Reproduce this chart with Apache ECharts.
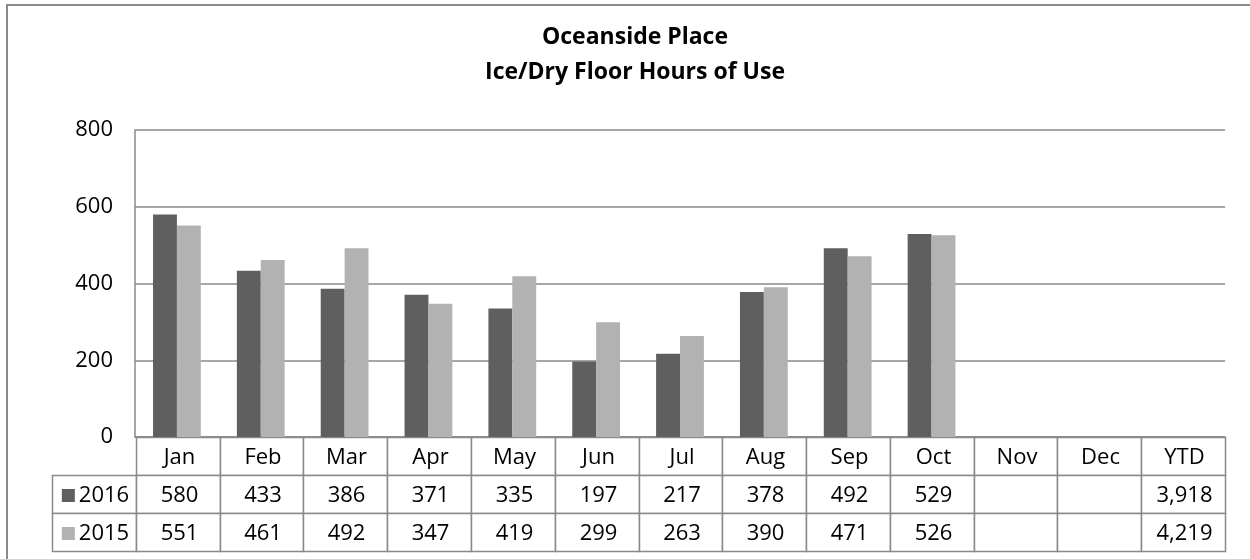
<!DOCTYPE html>
<html>
<head>
<meta charset="utf-8">
<script src="https://cdn.jsdelivr.net/npm/echarts@6/dist/echarts.min.js"></script>
<style>
  html, body { margin: 0; padding: 0; background: #ffffff; }
  #chart { width: 1250px; height: 559px; }
</style>
</head>
<body>
<div id="chart"></div>
<script>
// ---- data ----
const titleLines = ['Oceanside Place', 'Ice/Dry Floor Hours of Use'];
const categories = ['Jan', 'Feb', 'Mar', 'Apr', 'May', 'Jun', 'Jul', 'Aug', 'Sep', 'Oct', 'Nov', 'Dec', 'YTD'];
const seriesNames = ['2016', '2015'];
const values2016 = [580, 433, 386, 371, 335, 197, 217, 378, 492, 529, null, null, null];
const values2015 = [551, 461, 492, 347, 419, 299, 263, 390, 471, 526, null, null, null];
const ytd2016 = '3,918';
const ytd2015 = '4,219';
const yMin = 0, yMax = 800, yInterval = 200;

// ---- styles ----
const colors = ['#5f5f5f', '#b2b2b2'];
const lineColor = '#8a8a8a';
const FONT = '"Open Sans", "Liberation Sans", sans-serif';
const FS = 22;

// ---- table cells (built from data) ----
const rowTexts = [
  values2016.slice(0, 12).map(v => v == null ? '' : String(v)).concat([ytd2016]),
  values2015.slice(0, 12).map(v => v == null ? '' : String(v)).concat([ytd2015])
];
const tableCols = [''].concat(categories);
const tableRows = ['hdr'].concat(seriesNames);
const cells = [];
for (let r = 0; r < 3; r++) {
  for (let c = 0; c < tableCols.length; c++) {
    if (r === 0 && c === 0) continue;
    let text = '', legend = -1;
    if (r === 0) text = categories[c - 1];
    else if (c === 0) { text = seriesNames[r - 1]; legend = r - 1; }
    else text = rowTexts[r - 1][c - 1];
    cells.push({ col: c, row: r, text: text, legend: legend });
  }
}

const chart = echarts.init(document.getElementById('chart'), null, { renderer: 'canvas' });

function renderCell(params, api) {
  const cell = cells[params.dataIndex];
  const p = api.coord([api.value(0), api.value(1)]);
  const s = api.size([1, 1]);
  const x0 = Math.round(p[0] - s[0] / 2) + 0.5;
  const x1 = Math.round(p[0] + s[0] / 2) + 0.5;
  const y0 = Math.round(p[1] - s[1] / 2) + 0.5;
  const y1 = Math.round(p[1] + s[1] / 2) + 0.5;
  const children = [{
    type: 'rect',
    shape: { x: x0, y: y0, width: x1 - x0, height: y1 - y0 },
    style: { fill: '#ffffff', stroke: lineColor, lineWidth: 1.5 }
  }];
  const textStyle = {
    x: (x0 + x1) / 2 + 1,
    y: (y0 + y1) / 2 + 1,
    align: 'center',
    verticalAlign: 'middle',
    fill: '#000000',
    fontSize: FS,
    fontFamily: FONT
  };
  if (cell.legend >= 0) {
    textStyle.text = '{sq|}{t|' + cell.text + '}';
    textStyle.rich = {
      sq: { width: 13, height: 13, backgroundColor: colors[cell.legend], padding: 0 },
      t: { fontSize: FS, fontFamily: FONT, fill: '#000', padding: [0, 0, 0, 4] }
    };
  } else {
    textStyle.text = cell.text;
  }
  children.push({ type: 'text', style: textStyle });
  return { type: 'group', children: children };
}

const option = {
  backgroundColor: '#ffffff',
  animation: false,
  title: {
    text: titleLines.join('\n'),
    left: 630,
    textAlign: 'center',
    top: 15,
    textStyle: { fontFamily: FONT, fontWeight: 'bold', fontSize: 23, lineHeight: 35, color: '#000' }
  },
  graphic: [{
    type: 'rect',
    shape: { x: 7, y: 5, width: 1400, height: 800 },
    style: { fill: 'none', stroke: lineColor, lineWidth: 2 },
    z: 100
  }],
  grid: [
    { left: 135, right: 25, top: 130, height: 307, containLabel: false },
    { left: 52, right: 25, top: 437, height: 114, containLabel: false }
  ],
  xAxis: [
    {
      type: 'category', gridIndex: 0, data: categories,
      axisLine: { show: true, lineStyle: { color: lineColor, width: 1.5 } },
      axisTick: { show: false }, axisLabel: { show: false }, splitLine: { show: false }
    },
    {
      type: 'category', gridIndex: 1, data: tableCols, show: false
    }
  ],
  yAxis: [
    {
      type: 'value', gridIndex: 0, min: yMin, max: yMax, interval: yInterval,
      axisLine: { show: true, lineStyle: { color: lineColor, width: 1.5 } },
      axisTick: { show: false },
      axisLabel: { color: '#000', fontSize: FS, fontFamily: FONT, margin: 22 },
      splitLine: { show: true, lineStyle: { color: lineColor, width: 1.5 } }
    },
    {
      type: 'category', gridIndex: 1, data: tableRows, inverse: true, show: false
    }
  ],
  series: [
    {
      name: seriesNames[0], type: 'bar', xAxisIndex: 0, yAxisIndex: 0,
      data: values2016, itemStyle: { color: colors[0] },
      barGap: '0%', barCategoryGap: '43%'
    },
    {
      name: seriesNames[1], type: 'bar', xAxisIndex: 0, yAxisIndex: 0,
      data: values2015, itemStyle: { color: colors[1] },
      barGap: '0%', barCategoryGap: '43%'
    },
    {
      type: 'custom', xAxisIndex: 1, yAxisIndex: 1,
      data: cells.map(c => [c.col, c.row]),
      encode: { x: 0, y: 1 },
      renderItem: renderCell,
      silent: true
    }
  ]
};
chart.setOption(option);
</script>
</body>
</html>
